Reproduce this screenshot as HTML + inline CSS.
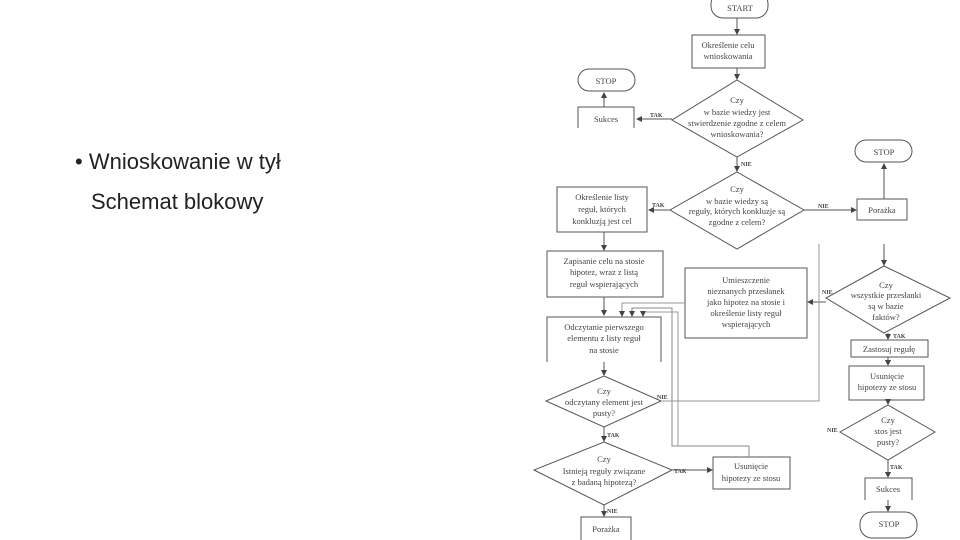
<!DOCTYPE html>
<html><head><meta charset="utf-8"><style>
body{margin:0;width:960px;height:540px;background:#fff;overflow:hidden;position:relative;font-family:"Liberation Sans",sans-serif}
.t{position:absolute;color:#222;font-size:22px;line-height:26px}
svg{position:absolute;left:0;top:0}
svg text{font-family:"Liberation Serif",serif;font-size:8.5px;fill:#444;stroke:none;text-anchor:middle}
svg .l{font-size:6px;font-weight:bold;text-anchor:start}
</style></head><body>
<div class="t" style="left:75px;top:149px">• Wnioskowanie w tył</div>
<div class="t" style="left:91px;top:189px">Schemat blokowy</div>
<svg width="960" height="540" viewBox="0 0 960 540" fill="none" stroke="#555" stroke-width="1">
<defs><marker id="a" markerWidth="6" markerHeight="6" refX="5" refY="3" orient="auto"><path d="M0,0L6,3L0,6z" fill="#444" stroke="none"/></marker></defs>
<rect x="711" y="-8" width="57" height="26" rx="12"/>
<rect x="692" y="35" width="73" height="33"/>
<polygon points="737,80 803,120 737,157 672,120"/>
<rect x="578" y="69" width="57" height="22" rx="11"/>
<path d="M578,128V107H634V128"/>
<polygon points="737,172 804,210 737,249 670,210"/>
<rect x="557" y="187" width="90" height="45"/>
<rect x="857" y="199" width="50" height="21"/>
<rect x="855" y="140" width="57" height="22" rx="11"/>
<rect x="547" y="251" width="116" height="46"/>
<rect x="685" y="268" width="122" height="70"/>
<polygon points="884,266 950,298 884,333 826,298"/>
<rect x="851" y="340" width="77" height="17"/>
<rect x="849" y="366" width="75" height="34"/>
<polygon points="888,405 935,432 888,460 840,432"/>
<path d="M865,500V478H912V500"/>
<rect x="860" y="512" width="57" height="26" rx="12"/>
<path d="M547,362V317H661V362"/>
<polygon points="604,376 661,401 604,427 546,401"/>
<polygon points="604,442 672,470 604,505 534,470"/>
<rect x="713" y="457" width="77" height="32"/>
<path d="M581,540V517H631V540"/>
<g marker-end="url(#a)">
<path d="M737,18V34"/><path d="M737,68V79"/>
<path d="M672,119H637"/><path d="M604,107V93"/>
<path d="M737,157V171"/>
<path d="M670,210H649"/><path d="M804,210H856"/>
<path d="M884,199V164"/><path d="M884,244V265"/>
<path d="M604,232V250"/><path d="M604,297V315"/>
<path d="M826,302H808"/>
<path d="M888,333V339"/><path d="M888,357V365"/><path d="M888,400V404"/>
<path d="M888,460V477"/><path d="M888,500V511"/>
<path d="M604,362V375"/><path d="M604,427V441"/>
<path d="M672,470H712"/><path d="M604,505V516"/>
<path d="M685,303H622V316" stroke="#999"/>
<path d="M749,457V446H672V308H632V316" stroke="#888"/>
<path d="M678,446V312H643V316" stroke="#999"/>
</g>
<path d="M661,401H819V244" stroke="#999"/>
<text x="740" y="11">START</text>
<text x="728" y="48">Określenie celu</text><text x="728" y="59">wnioskowania</text>
<text x="737" y="103">Czy</text><text x="737" y="115">w bazie wiedzy jest</text><text x="737" y="126">stwierdzenie zgodne z celem</text><text x="737" y="137">wnioskowania?</text>
<text x="606" y="84">STOP</text><text x="606" y="122">Sukces</text>
<text class="l" x="650" y="117">TAK</text><text class="l" x="741" y="166">NIE</text>
<text x="737" y="192">Czy</text><text x="737" y="204">w bazie wiedzy są</text><text x="737" y="214">reguły, których konkluzje są</text><text x="737" y="225">zgodne z celem?</text>
<text class="l" x="652" y="207">TAK</text><text class="l" x="818" y="208">NIE</text>
<text x="602" y="200">Określenie listy</text><text x="602" y="212">reguł, których</text><text x="602" y="224">konkluzją jest cel</text>
<text x="884" y="155">STOP</text><text x="882" y="213">Porażka</text>
<text x="604" y="264">Zapisanie celu na stosie</text><text x="604" y="275">hipotez, wraz z listą</text><text x="604" y="287">reguł wspierających</text>
<text x="746" y="283">Umieszczenie</text><text x="746" y="294">nieznanych przesłanek</text><text x="746" y="305">jako hipotez na stosie i</text><text x="746" y="316">określenie listy reguł</text><text x="746" y="327">wspierających</text>
<text class="l" x="822" y="294">NIE</text>
<text x="886" y="288">Czy</text><text x="886" y="298">wszystkie przesłanki</text><text x="886" y="309">są w bazie</text><text x="886" y="320">faktów?</text>
<text class="l" x="893" y="338">TAK</text>
<text x="889" y="352">Zastosuj regułę</text>
<text x="887" y="379">Usunięcie</text><text x="887" y="390">hipotezy ze stosu</text>
<text x="888" y="423">Czy</text><text x="888" y="434">stos jest</text><text x="888" y="445">pusty?</text>
<text class="l" x="827" y="432">NIE</text><text class="l" x="890" y="469">TAK</text>
<text x="888" y="492">Sukces</text><text x="889" y="527">STOP</text>
<text x="604" y="330">Odczytanie pierwszego</text><text x="604" y="341">elementu z listy reguł</text><text x="604" y="353">na stosie</text>
<text x="604" y="394">Czy</text><text x="604" y="405">odczytany element jest</text><text x="604" y="416">pusty?</text>
<text class="l" x="657" y="399">NIE</text><text class="l" x="607" y="437">TAK</text>
<text x="604" y="462">Czy</text><text x="604" y="474">Istnieją reguły związane</text><text x="604" y="485">z badaną hipotezą?</text>
<text class="l" x="674" y="473">TAK</text><text class="l" x="607" y="513">NIE</text>
<text x="751" y="469">Usunięcie</text><text x="751" y="481">hipotezy ze stosu</text>
<text x="606" y="532">Porażka</text>
</svg>
</body></html>
